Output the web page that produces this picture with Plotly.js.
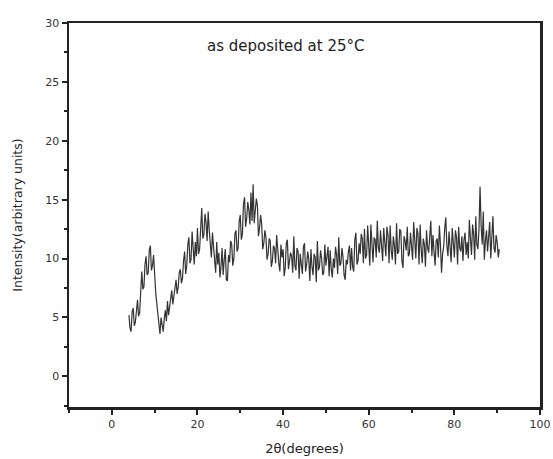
<!DOCTYPE html>
<html>
<head>
<meta charset="utf-8">
<script src="https://cdn.plot.ly/plotly-3.0.1.min.js"></script>
<style>html,body{margin:0;padding:0;background:#fff;}#chart{width:553px;height:459px;}</style>
</head>
<body>
<div id="chart"></div>
<script>
// 2-theta start, step and intensity values (four readings per degree)
const thetaStart = 4;
const thetaStep = 0.25;
const intensity = [
  5.2, 4.1, 3.8, 5.5,   5.8, 4.3, 4.6, 6.0,   6.5, 5.1, 5.4, 7.2,   8.9, 7.4, 7.6, 9.5,
  10.2, 8.6, 8.8, 10.7, 11.1, 9.0, 9.4, 10.3, 8.0, 7.1, 6.2, 5.3,   4.3, 3.6, 5.0, 4.1,
  3.8, 4.9, 5.6, 4.7,   6.4, 5.2, 5.9, 6.9,   7.3, 6.1, 6.8, 7.9,   8.2, 7.0, 7.6, 8.8,
  9.1, 7.9, 8.3, 9.8,   10.6, 8.7, 9.4, 11.2, 11.8, 9.6, 9.9, 12.3, 10.7, 9.5, 11.4, 10.2,
  12.6, 10.4, 10.8, 13.3, 14.3, 11.7, 12.0, 13.8, 13.1, 11.5, 14.0, 12.4, 11.0, 10.1, 12.2, 10.6,
  9.9, 8.8, 11.4, 9.5,  10.5, 8.4, 9.3, 10.9,  8.6, 9.9, 10.8, 8.2,  8.1, 10.3, 9.7, 11.5,
  11.2, 9.4, 10.0, 12.1, 12.4, 10.6, 10.9, 13.2, 13.7, 11.6, 12.1, 14.6, 15.2, 12.7, 13.4, 14.8,
  14.1, 12.9, 15.6, 13.2, 16.3, 13.0, 13.8, 15.1, 14.5, 11.9, 12.6, 13.7, 12.9, 10.8, 11.3, 12.4,
  11.8, 9.9, 10.4, 11.7, 11.5, 9.3, 9.8, 11.1, 10.9, 9.6, 12.0, 10.3, 9.6, 8.9, 11.2, 10.1,
  10.8, 8.5, 9.2, 11.3, 11.6, 9.1, 9.7, 10.5, 10.2, 8.8, 11.9, 9.4,  9.0, 10.9, 10.6, 8.3,
  10.4, 9.7, 8.7, 11.0, 11.3, 8.9, 9.5, 10.6, 9.9, 8.1, 10.8, 9.3,  8.6, 10.4, 10.1, 8.0,
  11.5, 9.0, 9.3, 10.7, 10.0, 8.6, 8.8, 11.2, 9.4, 10.2, 11.0, 8.5,  10.7, 9.1, 8.4, 10.0,
  9.2, 11.0, 10.3, 8.7, 11.8, 9.4, 9.6, 10.9, 10.1, 8.6, 8.2, 9.9,  9.5, 10.6, 11.1, 9.0,
  10.9, 9.3, 8.9, 11.6, 12.2, 9.5, 9.8, 11.3, 10.4, 12.1, 11.7, 9.6, 12.5, 10.0, 10.3, 12.8,
  11.0, 9.4, 12.9, 10.6, 9.7, 11.8, 11.6, 10.1, 13.2, 10.9, 10.5, 12.4, 11.4, 9.8, 12.6, 11.0,
  10.2, 12.7, 12.0, 9.6, 12.8, 10.7, 9.9, 11.9, 11.1, 9.5, 13.0, 10.4, 10.6, 12.5, 12.3, 9.8,
  9.2, 11.9, 11.5, 10.7, 12.7, 10.2, 10.4, 12.2, 11.3, 9.9, 13.1, 11.0, 10.0, 12.6, 12.1, 9.5,
  12.9, 10.8, 9.6, 11.7, 11.2, 9.3, 12.4, 10.9, 10.5, 11.9, 13.2, 10.2, 12.0, 10.6, 9.4, 11.5,
  11.7, 10.1, 12.8, 11.2, 8.8, 10.4, 11.0, 12.6, 13.5, 11.1, 10.2, 12.3, 11.3, 9.7, 12.6, 10.8,
  10.1, 12.4, 11.8, 9.5, 12.7, 10.9, 10.6, 11.9, 9.8, 11.6, 12.2, 10.3, 11.4, 10.0, 13.3, 11.7,
  10.3, 12.9, 12.1, 9.9, 13.6, 11.2, 10.8, 12.5, 16.1, 12.8, 11.2, 14.0, 9.9, 11.5, 12.4, 10.6,
  11.7, 13.1, 10.0, 11.8, 13.6, 10.9, 10.5, 12.0, 11.4, 10.1, 10.8
];
const twoTheta = intensity.map((_, i) => thetaStart + i * thetaStep);

const xTicks = [0, 20, 40, 60, 80, 100];
const yTicks = [0, 5, 10, 15, 20, 25, 30];
const chartLabel = 'as deposited at 25°C';

const fam = 'DejaVu Sans, Verdana, sans-serif';
const axisFont = {family: fam, size: 11, color: '#333'};

Plotly.newPlot('chart', [{
  x: twoTheta,
  y: intensity,
  type: 'scatter',
  mode: 'lines',
  line: {color: '#333333', width: 1.2},
  showlegend: false
}], {
  width: 553, height: 459,
  margin: {l: 69, r: 13, t: 23, b: 52},
  paper_bgcolor: '#fff', plot_bgcolor: '#fff',
  font: axisFont,
  xaxis: {
    range: [-10, 100], tickvals: xTicks, ticks: 'outside', ticklen: 5, tickwidth: 2,
    tickcolor: '#222', showline: true, linecolor: '#222', linewidth: 2.5, mirror: true,
    showgrid: false, zeroline: false, tickfont: axisFont,
    minor: {dtick: 10, tick0: 0, ticks: 'outside', ticklen: 3, tickwidth: 2, tickcolor: '#222'},
    title: {text: '2θ(degrees)', font: {family: fam, size: 13, color: '#222'}, standoff: 14}
  },
  yaxis: {
    range: [-2.6, 30], tickvals: yTicks, ticks: 'outside', ticklen: 5, tickwidth: 2,
    tickcolor: '#222', showline: true, linecolor: '#222', linewidth: 2.5, mirror: true,
    showgrid: false, zeroline: false, tickfont: axisFont,
    minor: {dtick: 2.5, tick0: 0, ticks: 'outside', ticklen: 3, tickwidth: 2, tickcolor: '#222'},
    title: {text: 'Intensity(arbitrary units)', font: {family: fam, size: 12.5, color: '#222'}, standoff: 20}
  },
  annotations: [{
    text: chartLabel, xref: 'paper', yref: 'paper', x: 0.46, y: 0.94,
    xanchor: 'center', yanchor: 'middle', showarrow: false,
    font: {family: fam, size: 15, color: '#222'}
  }]
}, {displayModeBar: false, staticPlot: true});
</script>
</body>
</html>
